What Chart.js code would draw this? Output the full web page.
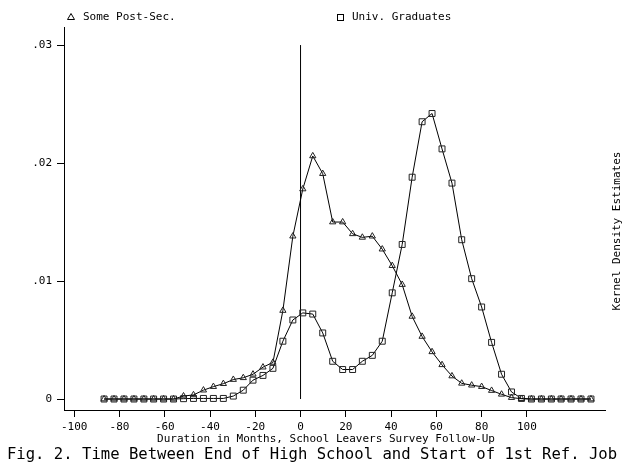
<!DOCTYPE html>
<html>
<head>
<meta charset="utf-8">
<script src="https://cdn.jsdelivr.net/npm/chart.js@4/dist/chart.umd.min.js"></script>
<style>
  html, body { margin: 0; padding: 0; background: #fff; }
  #wrap { width: 625px; height: 465px; position: relative; }
</style>
</head>
<body>
<div id="wrap"><canvas id="c" width="625" height="465"></canvas></div>
<script>
// Evaluation points (months)
const months = [-86.8, -82.4, -78.0, -73.6, -69.2, -64.9, -60.5, -56.1, -51.7, -47.3,
  -42.9, -38.5, -34.1, -29.7, -25.3, -21.0, -16.6, -12.2, -7.8, -3.4,
  1.0, 5.4, 9.8, 14.2, 18.6, 23.0, 27.3, 31.7, 36.1, 40.5,
  44.9, 49.3, 53.7, 58.1, 62.5, 66.9, 71.2, 75.6, 80.0, 84.4,
  88.8, 93.2, 97.6, 102.0, 106.4, 110.8, 115.1, 119.5, 123.9, 128.3];

// Kernel density: Some Post-Secondary (triangles)
const somePostSec = [0, 0, 0, 0, 0, 0, 0, 0, 0.00025, 0.00035,
  0.00075, 0.00105, 0.0013, 0.00165, 0.0018, 0.0021, 0.0027, 0.0031, 0.0075, 0.0138,
  0.0178, 0.0206, 0.0191, 0.0150, 0.0150, 0.0140, 0.0137, 0.0138, 0.0127, 0.0113,
  0.0097, 0.0070, 0.0053, 0.0040, 0.0029, 0.00195, 0.00133, 0.00117, 0.00105, 0.00072,
  0.00040, 0.00012, 0.00003, 0, 0, 0, 0, 0, 0, 0];

// Kernel density: University Graduates (squares)
const univGrads = [0, 0, 0, 0, 0, 0, 0, 0, 0.00003, 0.00005,
  0.00005, 0.00005, 0.00005, 0.00025, 0.00075, 0.0016, 0.0020, 0.0026, 0.0049, 0.0067,
  0.0073, 0.0072, 0.0056, 0.0032, 0.0025, 0.0025, 0.0032, 0.0037, 0.0049, 0.0090,
  0.0131, 0.0188, 0.0235, 0.0242, 0.0212, 0.0183, 0.0135, 0.0102, 0.0078, 0.0048,
  0.0021, 0.0006, 0.00005, 0, 0, 0, 0, 0, 0, 0];

// Reference vertical line at month 0
const refLineX = [0, 0];
const refLineY = [0, 0.03];

const xTicks = [-100, -80, -60, -40, -20, 0, 20, 40, 60, 80, 100];
const yTicks = [0, 0.01, 0.02, 0.03];
const yTickLabels = ['0', '.01', '.02', '.03'];

const seriesNames = ['Some Post-Sec.', 'Univ. Graduates'];
const xTitle = 'Duration in Months, School Leavers Survey Follow-Up';
const yTitle = 'Kernel Density Estimates';
const caption = 'Fig. 2. Time Between End of High School and Start of 1st Ref. Job';

const FONT = "'DejaVu Sans Mono', 'Liberation Mono', monospace";

const toXY = (xs, ys) => xs.map((x, i) => ({ x: x, y: ys[i] }));

const textPlugin = {
  id: 'texts',
  afterDraw(chart) {
    const ctx = chart.ctx;
    ctx.save();
    ctx.fillStyle = '#000';
    ctx.strokeStyle = '#000';
    ctx.lineWidth = 1;
    // Legend
    ctx.font = '11px ' + FONT;
    ctx.textBaseline = 'middle';
    ctx.textAlign = 'left';
    // triangle marker
    ctx.beginPath();
    ctx.moveTo(71, 13.5);
    ctx.lineTo(74.5, 19.5);
    ctx.lineTo(67.5, 19.5);
    ctx.closePath();
    ctx.stroke();
    ctx.fillText(seriesNames[0], 83, 17);
    // square marker
    ctx.strokeRect(337.5, 14.5, 6, 6);
    ctx.fillText(seriesNames[1], 352, 17);

    // x title
    ctx.textAlign = 'center';
    ctx.font = '11px ' + FONT;
    ctx.fillText(xTitle, 326, 439);

    // caption
    ctx.font = '15.6px ' + FONT;
    ctx.fillText(caption, 312, 455);

    // right title rotated
    ctx.save();
    ctx.translate(617, 231);
    ctx.rotate(-Math.PI / 2);
    ctx.font = '11px ' + FONT;
    ctx.textAlign = 'center';
    ctx.fillText(yTitle, 0, 0);
    ctx.restore();
    ctx.restore();
  }
};

new Chart(document.getElementById('c'), {
  type: 'scatter',
  data: {
    datasets: [
      {
        label: seriesNames[0],
        data: toXY(months, somePostSec),
        showLine: true,
        borderColor: '#000',
        borderWidth: 1,
        pointStyle: 'triangle',
        pointRadius: 3.6,
        pointBorderColor: '#222',
        pointBackgroundColor: 'rgba(0,0,0,0)',
        pointBorderWidth: 1,
        tension: 0
      },
      {
        label: seriesNames[1],
        data: toXY(months, univGrads),
        showLine: true,
        borderColor: '#000',
        borderWidth: 1,
        pointStyle: 'rect',
        pointRadius: 4.2,
        pointBorderColor: '#222',
        pointBackgroundColor: 'rgba(0,0,0,0)',
        pointBorderWidth: 1,
        tension: 0
      },
      {
        label: 'ref',
        data: toXY(refLineX, refLineY),
        showLine: true,
        borderColor: '#000',
        borderWidth: 1,
        pointRadius: 0
      }
    ]
  },
  options: {
    responsive: false,
    animation: false,
    devicePixelRatio: 1,
    layout: { padding: { left: 0, right: 20, top: 27, bottom: 0 } },
    plugins: {
      legend: { display: false },
      tooltip: { enabled: false },
      title: { display: false }
    },
    scales: {
      x: {
        type: 'linear',
        min: -104.5,
        max: 134.5,
        afterBuildTicks(scale) { scale.ticks = xTicks.map(v => ({ value: v })); },
        afterFit(scale) { scale.height = 55; },
        grid: { display: true, drawOnChartArea: false, drawTicks: true, tickLength: 7, color: '#000', lineWidth: 1 },
        border: { display: true, color: '#000', width: 1 },
        ticks: {
          color: '#000',
          font: { family: FONT, size: 11 },
          padding: 4,
          maxRotation: 0,
          autoSkip: false
        }
      },
      y: {
        type: 'linear',
        min: -0.00093,
        max: 0.03153,
        afterBuildTicks(scale) { scale.ticks = yTicks.map(v => ({ value: v })); },
        afterFit(scale) { scale.width = 64; },
        grid: { display: true, drawOnChartArea: false, drawTicks: true, tickLength: 7, color: '#000', lineWidth: 1 },
        border: { display: true, color: '#000', width: 1 },
        ticks: {
          color: '#000',
          font: { family: FONT, size: 11 },
          padding: 5,
          autoSkip: false,
          callback: (v) => { const i = yTicks.indexOf(v); return i >= 0 ? yTickLabels[i] : ''; }
        }
      }
    }
  },
  plugins: [textPlugin]
});
</script>
</body>
</html>
